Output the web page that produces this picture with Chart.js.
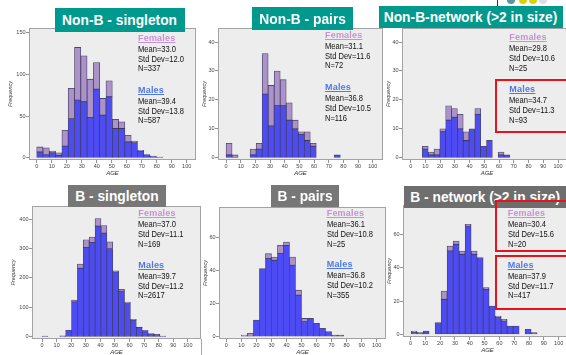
<!DOCTYPE html>
<html><head><meta charset="utf-8">
<script src="https://cdn.jsdelivr.net/npm/chart.js@4.4.1/dist/chart.umd.min.js"></script>
<style>
html,body{margin:0;padding:0;background:#fff;}
body{width:566px;height:355px;overflow:hidden;position:relative;font-family:"Liberation Sans",Arial,sans-serif;}
canvas{position:absolute;}
.tbox{position:absolute;display:flex;align-items:center;justify-content:center;color:#fff;font-weight:bold;font-size:15.5px;white-space:nowrap;}
.tbox span{display:inline-block;transform:scaleX(0.89);}
.ln{position:absolute;font-size:9px;line-height:10px;height:10px;white-space:nowrap;color:#111;transform:scaleX(0.84);transform-origin:left center;}
.hd{position:absolute;font-size:9px;line-height:10px;height:10px;white-space:nowrap;font-weight:bold;text-decoration:underline;letter-spacing:0.2px;}
.red{position:absolute;border:2px solid #e5141b;box-sizing:border-box;}
.dot{position:absolute;width:8px;height:8px;border-radius:50%;}
</style></head><body>
<script>
// ---------- data ----------
const xTickValues = [0, 10, 20, 30, 40, 50, 60, 70, 80, 90, 100];

// Non-B - singleton (age bins of ~4.2 years from 0)
const nonBSingletonMales   = [7, 4, 6, 3, 14, 47, 69, 67, 48, 82, 51, 73, 35, 35, 19, 18, 8, 4, 2, 1];
const nonBSingletonFemales = [6, 8, 2, 3, 19, 36, 63, 55, 46, 32, 20, 19, 11, 8, 8, 2, 1, 0, 0, 0];
const nonBSingletonYTicks  = [0, 50, 100, 150];

// Non-B - pairs (bins ~4.1 years from 0)
const nonBPairsMales   = [1, 0, 0, 0, 1, 3, 22, 11, 18, 18, 13, 10, 8, 6, 4, 0, 0, 0, 1];
const nonBPairsFemales = [4, 1, 0, 0, 2, 2, 14, 14, 12, 9, 6, 3, 1, 3, 1, 0, 0, 0, 0];
const nonBPairsYTicks  = [0, 10, 20, 30, 40];

// Non-B-network (>2 in size) (bins ~4 years from 0)
const nonBNetworkMales   = [0, 0, 3, 1, 1, 9, 13, 14, 10, 6, 10, 15, 4, 6, 0, 1, 1];
const nonBNetworkFemales = [0, 0, 1, 1, 2, 1, 5, 3, 5, 3, 0, 2, 0, 0, 0, 1, 0];
const nonBNetworkYTicks  = [0, 10, 20, 30, 40];

// B - singleton (bins ~4 years from 0)
const bSingletonMales   = [2, 0, 0, 3, 22, 118, 233, 303, 320, 376, 352, 300, 221, 155, 113, 57, 32, 21, 10, 7, 2];
const bSingletonFemales = [0, 0, 0, 0, 0, 7, 14, 27, 19, 26, 26, 23, 3, 6, 5, 2, 1, 1, 1, 1, 0];
const bSingletonYTicks  = [0, 100, 200, 300, 400];

// B - pairs (bins 4 years from 2)
const bPairsMales   = [0, 0, 0, 0, 10, 41, 47, 46, 50, 55, 43, 25, 9, 11, 8, 5, 3, 1, 1];
const bPairsFemales = [0, 0, 1, 2, 0, 0, 3, 2, 5, 2, 5, 3, 2, 0, 0, 0, 0, 0, 0];
const bPairsYTicks  = [0, 20, 40, 60];

// B - network (>2 in size) (bins ~4.05 years from 0.4)
const bNetworkMales   = [1, 1, 2, 0, 7, 21, 50, 54, 48, 65, 48, 46, 27, 17, 10, 8, 5, 5, 0, 3, 1];
const bNetworkFemales = [1, 0, 0, 0, 0, 5, 3, 2, 2, 1, 2, 0, 1, 0, 1, 1, 0, 0, 0, 0, 0];
const bNetworkYTicks  = [0, 20, 40, 60];

// bin edges: [first edge, width]
const binEdges = {
  nonBSingleton: [0, 4.2], nonBPairs: [0, 4.1], nonBNetwork: [0, 3.96],
  bSingleton: [0, 4.04], bPairs: [2, 4.0], bNetwork: [0.4, 4.05]
};

const panelTitles = ["Non-B - singleton", "Non-B - pairs", "Non-B-network (>2 in size)",
                     "B - singleton", "B - pairs", "B - network (>2 in size)"];
const femaleStats = [["Mean=33.0","Std Dev=12.0","N=337"], ["Mean=31.1","Std Dev=11.6","N=72"], ["Mean=29.8","Std Dev=10.6","N=25"],
                     ["Mean=37.0","Std Dev=11.1","N=169"], ["Mean=36.1","Std Dev=10.8","N=25"], ["Mean=30.4","Std Dev=15.6","N=20"]];
const maleStats   = [["Mean=39.4","Std Dev=13.8","N=587"], ["Mean=36.8","Std Dev=10.5","N=116"], ["Mean=34.7","Std Dev=11.3","N=93"],
                     ["Mean=39.7","Std Dev=11.2","N=2617"], ["Mean=36.8","Std Dev=10.2","N=355"], ["Mean=37.9","Std Dev=11.7","N=417"]];

// ---------- styles / layout ----------
const FONT = '"Liberation Sans", Arial, sans-serif';
const MALE_COLOR = '#4d4cf4';
const FEMALE_COLOR = '#ab93c9';
const BAR_EDGE = 'rgba(45,40,80,0.85)';
const PLOT_BG = '#ededed';
const FRAME = '#a3a3a3';

const panels = [
  {key:'nonBSingleton', male:nonBSingletonMales, female:nonBSingletonFemales, yTicks:nonBSingletonYTicks,
   l:29, r:196, t:28, b:159.5, xMin:-5.13, xMax:106.2, yMin:-2.6, yMax:155.2, yGap:19,
   box:[55,8,130,24,'#00998d'], ann:[138,38,90]},
  {key:'nonBPairs', male:nonBPairsMales, female:nonBPairsFemales, yTicks:nonBPairsYTicks,
   l:218, r:383, t:28, b:159.5, xMin:-5.5, xMax:107, yMin:-0.76, yMax:44.85, yGap:14,
   box:[252,7,101,23,'#00998d'], ann:[325,35,87.3]},
  {key:'nonBNetwork', male:nonBNetworkMales, female:nonBNetworkFemales, yTicks:nonBNetworkYTicks,
   l:402, r:572, t:28, b:159.5, xMin:-5.9, xMax:109.5, yMin:-0.76, yMax:44.85, yGap:14,
   box:[379,6,184,22,'#00998d'], ann:[509.3,37.3,89.3]},
  {key:'bSingleton', male:bSingletonMales, female:bSingletonFemales, yTicks:bSingletonYTicks,
   l:32, r:201, t:205.5, b:339, xMin:-6.9, xMax:109, yMin:-7.8, yMax:444.7, yGap:19,
   box:[68,185,98,22,'#777777'], ann:[138.3,213.3,265]},
  {key:'bPairs', male:bPairsMales, female:bPairsFemales, yTicks:bPairsYTicks,
   l:219, r:386, t:206.5, b:339, xMin:-4.9, xMax:106.2, yMin:-1.4, yMax:78.1, yGap:14,
   box:[271,185,68,22,'#777777'], ann:[326.7,213.3,264.3]},
  {key:'bNetwork', male:bNetworkMales, female:bNetworkFemales, yTicks:bNetworkYTicks,
   l:403, r:572, t:205, b:337, xMin:-5.1, xMax:109, yMin:-1.6, yMax:77.6, yGap:14,
   box:[404,186,162,22,'#6e6e6e'], ann:[507.7,213.3,265]}
];

const framePlugin = {
  id: 'frame',
  beforeDatasetsDraw(chart) {
    const {ctx, chartArea: a} = chart;
    ctx.save();
    ctx.fillStyle = PLOT_BG;
    ctx.fillRect(a.left, a.top, a.right - a.left, a.bottom - a.top);
    ctx.restore();
  },
  afterDatasetsDraw(chart) {
    const {ctx, chartArea: a} = chart;
    ctx.save();
    ctx.strokeStyle = FRAME;
    ctx.lineWidth = 1;
    ctx.strokeRect(Math.round(a.left) + 0.5, Math.round(a.top) + 0.5,
                   Math.round(a.right - a.left) - 1, Math.round(a.bottom - a.top) - 1);
    ctx.restore();
  }
};

function points(start, width, vals) {
  return vals.map((v, i) => ({x: start + width * (i + 0.5), y: v > 0 ? v : null}));
}

function makeChart(p) {
  const YW = 26, XH = 18, PT = 5;
  const cl = Math.round(p.l - YW), ct = Math.round(p.t - PT);
  const cw = Math.round(p.r) - cl, ch = Math.round(p.b + XH) - ct;
  const cv = document.createElement('canvas');
  cv.width = cw; cv.height = ch;
  cv.style.left = cl + 'px'; cv.style.top = ct + 'px';
  cv.style.width = cw + 'px'; cv.style.height = ch + 'px';
  document.body.appendChild(cv);
  const [start, width] = binEdges[p.key];
  const yLeft = p.l - cl;
  const tickFont = {size: 5.5, family: FONT};
  const grid = {display: true, drawOnChartArea: false, drawTicks: true, tickLength: 3, color: '#777', lineWidth: 0.8, offset: false};
  const ds = (label, vals, color) => ({
    label, data: points(start, width, vals), backgroundColor: color,
    borderColor: BAR_EDGE, borderWidth: 0.8, borderSkipped: false,
    barPercentage: 1, categoryPercentage: 1
  });
  new Chart(cv.getContext('2d'), {
    type: 'bar',
    data: {datasets: [ds('Males', p.male, MALE_COLOR), ds('Females', p.female, FEMALE_COLOR)]},
    options: {
      responsive: false, animation: false, devicePixelRatio: 1,
      layout: {padding: {top: PT, left: 0, right: 0, bottom: 0}, autoPadding: false},
      plugins: {legend: {display: false}, tooltip: {enabled: false}},
      scales: {
        x: {
          type: 'linear', stacked: true, min: p.xMin, max: p.xMax, offset: false,
          grid, border: {display: false},
          afterBuildTicks: a => { a.ticks = xTickValues.map(v => ({value: v})); },
          ticks: {font: tickFont, color: '#444', padding: 0, maxRotation: 0, autoSkip: false},
          title: {display: true, text: 'AGE', font: {size: 6, style: 'italic', family: FONT}, color: '#333', padding: {top: 0, bottom: 1.2}},
          afterFit: s => { s.height = XH; }
        },
        y: {
          type: 'linear', stacked: true, min: p.yMin, max: p.yMax,
          grid, border: {display: false},
          afterBuildTicks: a => { a.ticks = p.yTicks.map(v => ({value: v})); },
          ticks: {font: tickFont, color: '#444', padding: 0.5},
          title: {display: true, text: 'Frequency', font: {size: 5.5, style: 'italic', family: FONT}, color: '#333',
                  padding: {top: Math.max(0, yLeft - p.yGap - 3.3), bottom: 0}},
          afterFit: s => { s.width = YW; }
        }
      }
    },
    plugins: [framePlugin]
  });
}

function addDiv(cls, x, y, w, h, html, style) {
  const d = document.createElement('div');
  d.className = cls;
  d.style.left = x + 'px'; d.style.top = y + 'px';
  if (w != null) d.style.width = w + 'px';
  if (h != null) d.style.height = h + 'px';
  if (style) Object.assign(d.style, style);
  if (html != null) d.innerHTML = html;
  document.body.appendChild(d);
  return d;
}

panels.forEach(makeChart);

// decoration above the top-right panel
addDiv('', 497, 0, 1, 7, null, {position: 'absolute', background: '#333'});
[['#5e9797', 507], ['#d9d30a', 519], ['#d9d30a', 529], ['#dcdcee', 539]].forEach(([c, x]) =>
  addDiv('dot', x, -4, null, null, null, {background: c}));
// frame line under B - singleton
addDiv('', 201, 339, 1, 16, null, {position: 'absolute', background: '#aaa'});

const offs = [0, 10.8, 20.6, 30.4];
panels.forEach((p, i) => {
  const [bx, by, bw, bh, bc] = p.box;
  addDiv('tbox', bx, by, bw, bh, '<span>' + panelTitles[i] + '</span>', {background: bc});
  const [ax, fy, my] = p.ann;
  addDiv('hd', ax, fy - 5 + offs[0], null, null, 'Females', {color: '#c692d4'});
  femaleStats[i].forEach((t, k) => addDiv('ln', ax, fy - 5 + offs[k + 1], null, null, t));
  addDiv('hd', ax, my - 5 + offs[0], null, null, 'Males', {color: '#4f79e9'});
  maleStats[i].forEach((t, k) => addDiv('ln', ax, my - 5 + offs[k + 1], null, null, t));
});

// red highlight boxes
addDiv('red', 495, 79, 80, 54);
addDiv('red', 495, 200, 80, 52);
addDiv('red', 495, 255, 80, 55);
</script>
</body></html>
